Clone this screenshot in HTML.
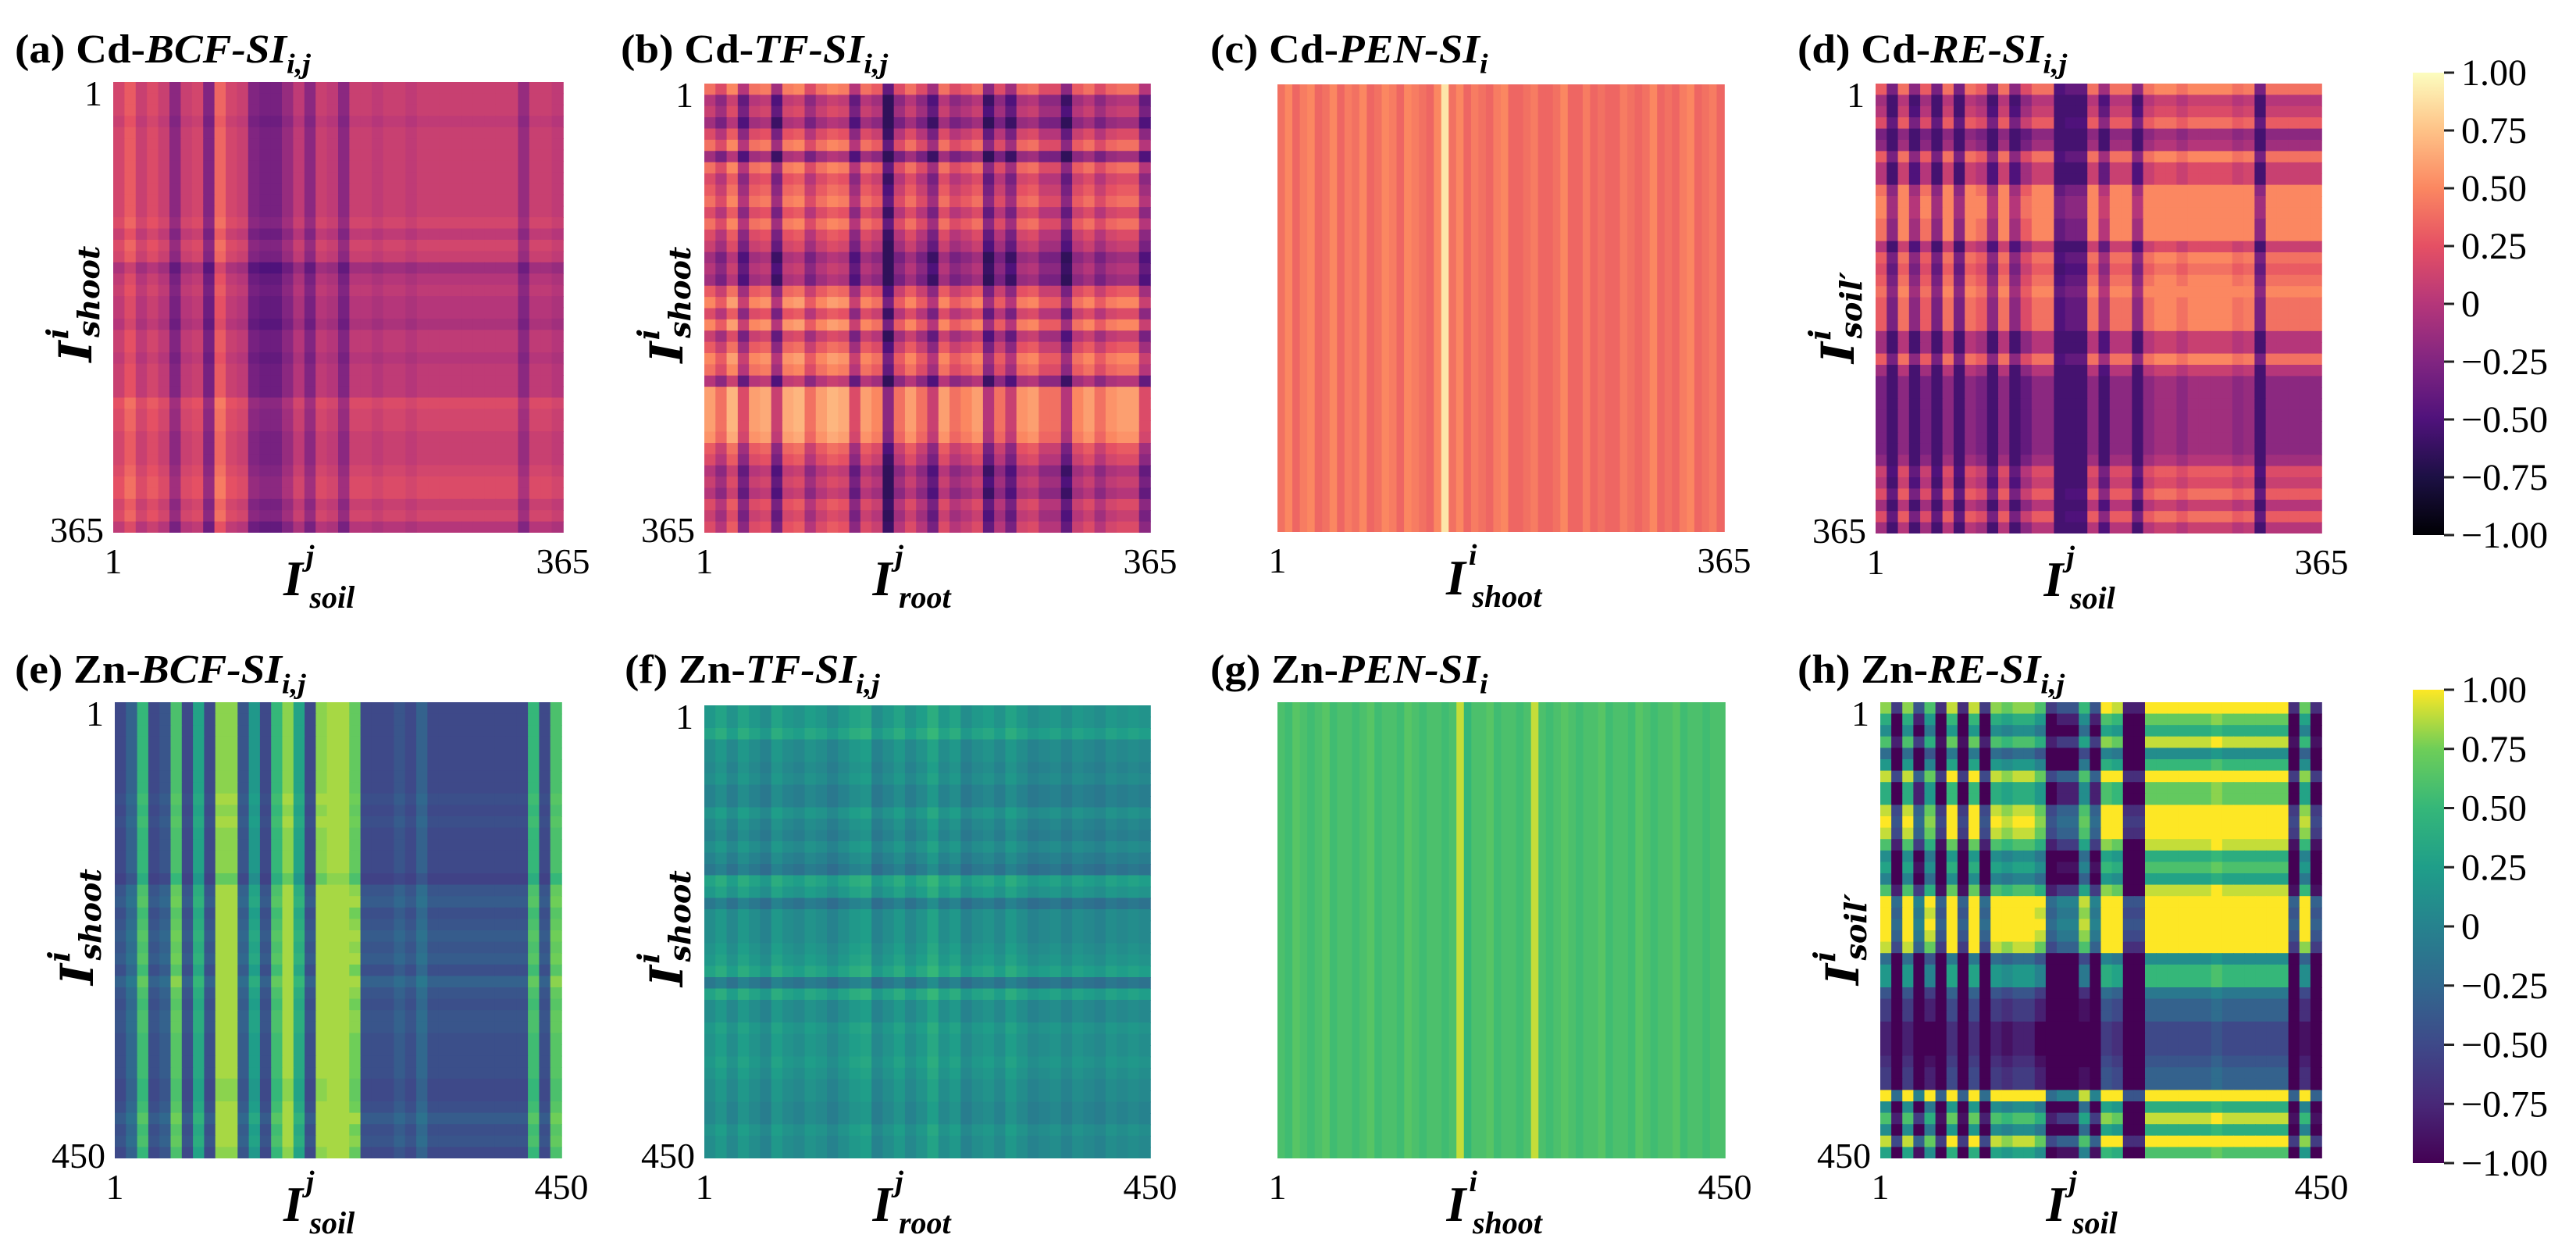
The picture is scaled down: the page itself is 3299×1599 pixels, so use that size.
<!DOCTYPE html>
<html><head><meta charset="utf-8"><style>
html,body{margin:0;padding:0;background:#fff;}
svg{display:block;}
text{font-family:"Liberation Serif",serif;fill:#000;}
</style></head><body>
<svg id="fig" width="3299" height="1599" viewBox="0 0 3299 1599" xmlns="http://www.w3.org/2000/svg">
<defs id="defs"></defs>
</svg>
<script>
// ---- data (values in [-1,1]) ----
const colA = [0.15,0.3,0.1,0.2,0.1,-0.2,0.1,0.15,-0.25,0.35,0.15,0.1,-0.25,-0.3,-0.3,-0.15,0.05,-0.2,0.1,0.05,-0.2,0.1,0.1,0.05,0.1,0.1,0.05,0.1,0.1,0.1,0.1,0.1,0.1,0.1,0.1,0.1,-0.15,0.1,0.1,0.05];
const rowA = [0,0,0,-0.05,0,0,0,0,0,0,0,0,0.05,-0.05,0.05,0,-0.2,-0.1,-0.05,-0.1,-0.1,-0.15,-0.05,-0.05,-0.1,-0.05,-0.05,-0.05,0.1,0.05,0.05,0,0,0,0.05,0.1,0.1,0,0.05,-0.1];
const colB = [0.3,0.1,0.4,-0.1,0.3,0.35,-0.2,0.35,0.4,0.1,0.3,0.4,0.35,-0.1,0.3,0.2,-0.5,0.1,0.3,0.1,-0.2,0.3,0.1,0.2,0.3,-0.3,0.1,-0.2,0.25,0.3,0.1,0.1,-0.3,0.2,0.3,0.1,0.25,0.3,0.3,-0.1];
const rowB = [0.1,-0.3,-0.2,-0.4,-0.1,0.1,-0.4,0.1,-0.1,0,0.1,-0.1,0.1,-0.1,-0.2,-0.4,-0.3,-0.4,0,0.2,-0.1,0.2,-0.2,0,0.2,0.1,-0.3,0.3,0.3,0.3,0.3,0.25,0,-0.1,-0.3,-0.2,-0.3,-0.1,-0.2,-0.1];
const colC = [0.4,0.5,0.35,0.45,0.5,0.35,0.4,0.5,0.35,0.45,0.4,0.5,0.35,0.4,0.5,0.45,0.35,0.5,0.45,0.4,0.35,0.5,0.9,0.4,0.5,0.35,0.45,0.4,0.35,0.45,0.5,0.35,0.35,0.4,0.45,0.35,0.35,0.4,0.5,0.35,0.35,0.45,0.35,0.4,0.35,0.35,0.45,0.4,0.35,0.4,0.5,0.35,0.4,0.35,0.45,0.5,0.35,0.4,0.45,0.35];
const colD = [0.2,-0.4,0.3,-0.3,0.2,-0.4,0.3,-0.4,0.3,0.2,-0.3,0.3,-0.3,0.1,0.3,0.3,-0.6,-0.5,-0.5,0.3,-0.2,0.3,0.3,-0.3,0.3,0.4,0.4,0.3,0.4,0.4,0.4,0.4,0.3,0.35,-0.4,0.3,0.3,0.3,0.3,0.3];
const rowD = [0.1,-0.3,-0.2,0,-0.5,-0.4,0.1,-0.2,-0.2,0.2,0.3,0.3,0.2,0.2,-0.2,0.1,0,0.1,0.2,0.1,0.1,0.1,-0.3,-0.3,0.1,-0.3,-0.5,-0.5,-0.5,-0.5,-0.5,-0.5,-0.5,-0.4,-0.1,-0.2,0,-0.3,0,-0.3];
const colE = [-0.5,-0.3,0.5,-0.5,-0.4,0.6,-0.5,0.3,-0.5,0.8,0.8,-0.4,0.2,-0.5,0.5,0.8,0.3,-0.5,0.8,0.9,0.9,0.7,-0.5,-0.5,-0.5,-0.4,-0.5,-0.3,-0.5,-0.5,-0.5,-0.5,-0.5,-0.5,-0.5,-0.5,-0.5,0.5,-0.5,0.6];
const rowE = [0,0,0,0,0,0,0,0,0.05,0,0.05,0,0,0,0,-0.1,0.1,0.15,0.05,0.1,0.15,0.1,0.15,0.05,0.2,0.1,0.05,0.1,0.1,0.05,0.05,0.05,0.05,0,0,0.05,0.15,0.05,0.1,0];
const colF = [0.1,0.2,0.05,0.2,0.1,0,0.2,0.1,0.05,0.15,0.1,0,0.1,0.2,0.25,0,0.1,0.2,0.05,0.15,0.3,0.1,0.2,0,0.1,0.15,0.05,0.2,0.1,0,0.05,0.1,0,0.1,0.05,0,0.1,0.05,0.1,0.05];
const rowF = [0.1,0.1,0.2,0,0,-0.05,0,-0.1,-0.1,0.05,-0.05,-0.1,0,-0.1,-0.2,0.2,0.1,-0.2,0,0,0,0.05,0.1,0.2,-0.2,0.2,0,0,0.1,0.05,0.05,0.1,0.05,0,0,-0.05,-0.05,0.05,0,0];
const colG = [0.6,0.55,0.65,0.6,0.55,0.6,0.65,0.55,0.6,0.6,0.55,0.6,0.65,0.55,0.6,0.6,0.55,0.65,0.6,0.55,0.6,0.6,0.55,0.6,0.9,0.5,0.6,0.6,0.65,0.55,0.6,0.6,0.55,0.6,0.9,0.6,0.55,0.6,0.65,0.6,0.55,0.6,0.6,0.65,0.55,0.6,0.6,0.55,0.65,0.6,0.55,0.6,0.6,0.65,0.55,0.6,0.6,0.55,0.6,0.6];
const colH = [0.6,-0.8,0.6,-0.6,0.4,-0.9,0.7,-0.9,0.7,-0.8,0.6,0.5,0.6,0.6,0.4,-0.8,-0.6,-0.6,0.3,-0.6,0.8,0.7,-1,-1,0.9,0.9,0.9,0.9,0.9,0.9,1,0.9,0.9,0.9,0.9,0.9,0.9,-0.9,0.5,-0.9];
const rowH = [0.2,-0.2,-0.5,0,-0.8,-0.4,0.3,-0.2,-0.2,0.3,0.4,0.3,0,-0.5,-0.3,-0.6,0,0.6,0.5,0.6,0.5,0.3,-0.8,-0.4,-0.4,-1,-1.2,-1.2,-1.4,-1.4,-1.4,-1.3,-1.2,-1.2,0.6,-0.5,0,-0.5,0.3,-0.3];
const cbTicks = [1,0.75,0.5,0.25,0,-0.25,-0.5,-0.75,-1];
const cbLabels = ['1.00','0.75','0.50','0.25','0','\u22120.25','\u22120.50','\u22120.75','\u22121.00'];

const magma = ['#000004','#1c1044','#4f127b','#812581','#b5367a','#e55064','#fb8761','#fec287','#fcfdbf'];
const viridis = ['#440154','#482878','#3e4989','#31688e','#26828e','#1f9e89','#35b779','#6ece58','#fde725'];

const NS = 'http://www.w3.org/2000/svg';
const svg = document.getElementById('fig');
function hex(h){return [parseInt(h.slice(1,3),16),parseInt(h.slice(3,5),16),parseInt(h.slice(5,7),16)];}
function cmap(stops, v){
  let t = Math.max(0, Math.min(1, (v+1)/2));
  const s = t*(stops.length-1); const i = Math.min(stops.length-2, Math.floor(s)); const f = s-i;
  const a = hex(stops[i]), b = hex(stops[i+1]);
  return 'rgb('+a.map((c,k)=>Math.round(c+(b[k]-c)*f)).join(',')+')';
}
function el(tag, attrs, parent){
  const e = document.createElementNS(NS, tag);
  for (const k in attrs) e.setAttribute(k, attrs[k]);
  (parent||svg).appendChild(e); return e;
}

const panels = [
  {id:'a', x:145, y:105, w:576, h:577, cols:colA, rows:rowA, lo:-1, hi:1, cm:magma, n:'365', met:'Cd', ind:'BCF-SI', sub:'i,j', xl:'soil', xs:'j', yl:'shoot', tx:19, ty:80},
  {id:'b', x:902, y:107, w:571, h:575, cols:colB, rows:rowB, lo:-0.65, hi:0.7, cm:magma, n:'365', met:'Cd', ind:'TF-SI', sub:'i,j', xl:'root', xs:'j', yl:'shoot', tx:795, ty:80},
  {id:'c', x:1636, y:108, w:572, h:573, cols:colC, rows:null, lo:-1, hi:1, cm:magma, n:'365', met:'Cd', ind:'PEN-SI', sub:'i', xl:'shoot', xs:'i', yl:null, tx:1550, ty:80},
  {id:'d', x:2402, y:107, w:571, h:576, cols:colD, rows:rowD, lo:-0.55, hi:0.5, cm:magma, n:'365', met:'Cd', ind:'RE-SI', sub:'i,j', xl:'soil', xs:'j', yl:"soil\u2032", tx:2302, ty:80},
  {id:'e', x:147, y:899, w:572, h:584, cols:colE, rows:rowE, lo:-0.55, hi:0.85, cm:viridis, n:'450', met:'Zn', ind:'BCF-SI', sub:'i,j', xl:'soil', xs:'j', yl:'shoot', tx:19, ty:874},
  {id:'f', x:902, y:903, w:571, h:580, cols:colF, rows:rowF, lo:-1, hi:1, cm:viridis, n:'450', met:'Zn', ind:'TF-SI', sub:'i,j', xl:'root', xs:'j', yl:'shoot', tx:800, ty:874},
  {id:'g', x:1636, y:899, w:573, h:584, cols:colG, rows:null, lo:-1, hi:1, cm:viridis, n:'450', met:'Zn', ind:'PEN-SI', sub:'i', xl:'shoot', xs:'i', yl:null, tx:1550, ty:874},
  {id:'h', x:2408, y:899, w:565, h:584, cols:colH, rows:rowH, lo:-1, hi:1, cm:viridis, n:'450', met:'Zn', ind:'RE-SI', sub:'i,j', xl:'soil', xs:'j', yl:"soil\u2032", tx:2302, ty:874}
];

panels.forEach(p=>{
  const g = el('g', {});
  
  
  const nc = p.cols.length, nr = p.rows ? p.rows.length : 1;
  const cw = p.w/nc, rh = p.h/nr;
  const xScale = j => p.x + j*cw;
  const yScale = i => p.y + i*rh;
  for (let i=0;i<nr;i++){
    for (let j=0;j<nc;j++){
      let v = p.rows ? p.cols[j] + p.rows[i] : p.cols[j];
      v = Math.max(p.lo, Math.min(p.hi, v));
      const r = el('rect', {x:xScale(j).toFixed(2), y:yScale(i).toFixed(2), width:(cw+0.8).toFixed(2), height:(Math.min(rh+0.8, p.y+p.h-yScale(i))).toFixed(2), fill:cmap(p.cm, v)}, g);
      
      
    }
  }
  // title
  const t = el('text', {transform:'translate('+p.tx+','+p.ty+') scale(1.2,1.12)', 'font-size':'46', 'font-weight':'bold'});
  
  
  const s1 = el('tspan', {}, t); s1.textContent = '('+p.id+') '+p.met+'-';
  const s2 = el('tspan', {'font-style':'italic'}, t); s2.textContent = p.ind;
  const s3 = el('tspan', {'font-style':'italic', 'font-size':'32', dy:'12'}, t); s3.textContent = p.sub;
  // x tick labels
  const bx = p.y + p.h + 52;
  const t1 = el('text', {x:p.x, y:bx, 'font-size':'46', 'text-anchor':'middle'}); t1.textContent='1';
  
  
  const t2 = el('text', {x:p.x+p.w, y:bx, 'font-size':'46', 'text-anchor':'middle'}); t2.textContent=p.n;
  
  
  // y tick labels
  if (p.rows){
    const y1 = el('text', {x:p.x-14, y:p.y+30, 'font-size':'46', 'text-anchor':'end'}); y1.textContent='1';
    
    
    const y2 = el('text', {x:p.x-12, y:p.y+p.h+12, 'font-size':'46', 'text-anchor':'end'}); y2.textContent=p.n;
    
    
  }
  // x axis label
  const cx = p.x + p.w/2;
  const xl = el('text', {x:cx-70, y:p.y+p.h+80, 'font-size':'64', 'font-weight':'bold', 'font-style':'italic'});
  
  
  const a1 = el('tspan', {}, xl); a1.textContent='I';
  const a2 = el('tspan', {'font-size':'38', dy:'-38', dx:'4'}, xl); a2.textContent=p.xs;
  const a3 = el('tspan', {'font-size':'40', dy:'54', dx:'-6'}, xl); a3.textContent=p.xl;
  // y axis label
  if (p.yl){
    const cy = p.y + p.h/2;
    const yl = el('text', {transform:'translate('+(p.x-28)+','+(cy+70)+') rotate(-90)', 'font-size':'58', 'font-weight':'bold', 'font-style':'italic', style:'font-family:"DejaVu Serif",serif'});
    
    
    const b1 = el('tspan', {}, yl); b1.textContent='I';
    const b2 = el('tspan', {'font-size':'38', dy:'-30', dx:'2'}, yl); b2.textContent='i';
    const b3 = el('tspan', {'font-size':'38', dy:'40', dx:'-12'}, yl); b3.textContent=p.yl;
  }
});

// colorbars
const defs = document.getElementById('defs');
[{id:'magma', cm:magma, y:93, h:592}, {id:'viridis', cm:viridis, y:883, h:606}].forEach(c=>{
  const lg = el('linearGradient', {id:'grad-'+c.id, x1:'0', y1:'1', x2:'0', y2:'0'}, defs);
  c.cm.forEach((col,k)=>{ el('stop', {offset:(k/(c.cm.length-1)), 'stop-color':col}, lg); });
  const g = el('g', {});
  
  
  const r = el('rect', {x:3090, y:c.y, width:40, height:c.h, fill:'url(#grad-'+c.id+')'}, g);
  
  
  const yS = v => c.y + (1-v)/2*c.h;
  cbTicks.forEach((v,k)=>{
    const yy = yS(v);
    const tk = el('line', {x1:3130, x2:3143, y1:yy, y2:yy, stroke:'#222', 'stroke-width':'3'}, g);
    
    
    const lb = el('text', {x:3152, y:yy+16, 'font-size':'48'}, g);
    lb.textContent = cbLabels[k];
    
    
  });
});
</script>
</body></html>
